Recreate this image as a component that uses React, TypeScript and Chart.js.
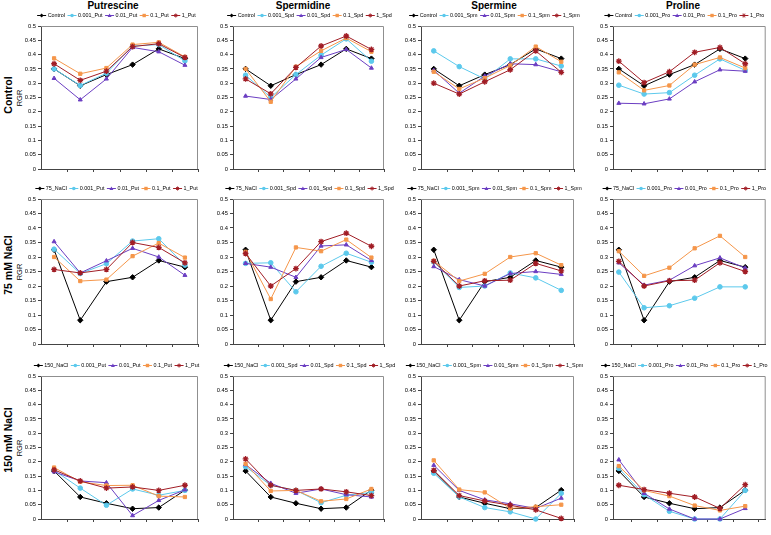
import React, { useEffect, useRef } from "react";
import { Chart, registerables } from "chart.js";

Chart.register(...registerables);

// ---------- data ----------
const days = ["DAY 2", "DAY 3", "DAY 4", "DAY 5", "DAY 6", "DAY 7"];
const dayNumbers = [2, 3, 4, 5, 6, 7];
const compounds = ["Putrescine", "Spermidine", "Spermine", "Proline"];
const suffixes = ["Put", "Spd", "Spm", "Pro"];
const treatments = ["Control", "75 mM NaCl", "150 mM NaCl"];
const baseNames = ["Control", "75_NaCl", "150_NaCl"];
const doses = ["0.001", "0.01", "0.1", "1"];
const yTickValues = [0, 0.05, 0.1, 0.15, 0.2, 0.25, 0.3, 0.35, 0.4, 0.45, 0.5];

const controlRGR = [0.35, 0.291, 0.33, 0.365, 0.42, 0.386];
const nacl75RGR = [0.325, 0.082, 0.215, 0.23, 0.288, 0.265];
const nacl150RGR = [0.168, 0.077, 0.055, 0.036, 0.04, 0.101];

// each: [0.001, 0.01, 0.1, 1] dose series
const putControl = [
  [0.35, 0.292, 0.335, 0.43, 0.435, 0.378],
  [0.317, 0.242, 0.315, 0.425, 0.41, 0.363],
  [0.387, 0.333, 0.353, 0.435, 0.443, 0.392],
  [0.368, 0.31, 0.342, 0.428, 0.438, 0.39],
];
const spdControl = [
  [0.328, 0.25, 0.33, 0.398, 0.455, 0.377],
  [0.255, 0.243, 0.315, 0.39, 0.418, 0.353],
  [0.35, 0.235, 0.358, 0.413, 0.458, 0.41],
  [0.315, 0.263, 0.355, 0.43, 0.465, 0.418],
];
const spmControl = [
  [0.413, 0.358, 0.315, 0.385, 0.385, 0.36],
  [0.345, 0.265, 0.325, 0.368, 0.365, 0.34],
  [0.34, 0.28, 0.318, 0.362, 0.428, 0.375],
  [0.3, 0.262, 0.305, 0.347, 0.413, 0.338],
];
const proControl = [
  [0.293, 0.262, 0.267, 0.328, 0.385, 0.345],
  [0.23, 0.228, 0.245, 0.305, 0.347, 0.342],
  [0.338, 0.275, 0.292, 0.365, 0.39, 0.353],
  [0.377, 0.302, 0.34, 0.408, 0.425, 0.368],
];
const put75 = [
  [0.327, 0.243, 0.277, 0.355, 0.363, 0.272],
  [0.353, 0.245, 0.287, 0.33, 0.3, 0.237],
  [0.3, 0.217, 0.222, 0.303, 0.348, 0.298],
  [0.257, 0.245, 0.257, 0.35, 0.333, 0.28],
];
const spd75 = [
  [0.278, 0.28, 0.18, 0.268, 0.313, 0.282],
  [0.278, 0.265, 0.23, 0.338, 0.342, 0.288],
  [0.318, 0.155, 0.333, 0.32, 0.36, 0.298],
  [0.312, 0.2, 0.26, 0.353, 0.382, 0.337],
];
const spm75 = [
  [0.283, 0.195, 0.2, 0.245, 0.228, 0.185],
  [0.267, 0.222, 0.2, 0.243, 0.25, 0.24],
  [0.287, 0.217, 0.242, 0.3, 0.313, 0.272],
  [0.285, 0.2, 0.218, 0.22, 0.278, 0.252],
];
const pro75 = [
  [0.248, 0.125, 0.132, 0.158, 0.197, 0.197],
  [0.28, 0.203, 0.22, 0.27, 0.297, 0.262],
  [0.32, 0.235, 0.263, 0.33, 0.373, 0.3],
  [0.285, 0.2, 0.218, 0.22, 0.28, 0.25],
];
const put150 = [
  [0.17, 0.108, 0.048, 0.105, 0.083, 0.1],
  [0.165, 0.133, 0.127, 0.012, 0.065, 0.102],
  [0.18, 0.13, 0.117, 0.118, 0.08, 0.077],
  [0.172, 0.133, 0.108, 0.112, 0.1, 0.118],
];
const spd150 = [
  [0.183, 0.118, 0.1, 0.057, 0.083, 0.093],
  [0.19, 0.125, 0.09, 0.105, 0.085, 0.077],
  [0.193, 0.098, 0.1, 0.062, 0.07, 0.105],
  [0.21, 0.118, 0.1, 0.105, 0.095, 0.082],
];
const spm150 = [
  [0.16, 0.077, 0.04, 0.025, 0.0, 0.09],
  [0.188, 0.1, 0.067, 0.053, 0.037, 0.073],
  [0.205, 0.103, 0.093, 0.037, 0.043, 0.05],
  [0.17, 0.082, 0.063, 0.048, 0.032, 0.002],
];
const pro150 = [
  [0.177, 0.085, 0.027, 0.0, 0.0, 0.1],
  [0.207, 0.09, 0.035, 0.0, 0.0, 0.037],
  [0.185, 0.1, 0.08, 0.047, 0.03, 0.045],
  [0.118, 0.103, 0.09, 0.077, 0.037, 0.12],
];

const baseSeries = [controlRGR, nacl75RGR, nacl150RGR];
const doseSeries = [
  [putControl, spdControl, spmControl, proControl],
  [put75, spd75, spm75, pro75],
  [put150, spd150, spm150, pro150],
];

// ---------- styles / layout ----------
const FAMILY = '"Liberation Sans", Arial, Helvetica, sans-serif';
const seriesColors = ["#000000", "#5CC9EC", "#6B3EC2", "#F5964A", "#A11D25"];
const seriesPoints = ["rectRot", "circle", "triangle", "rect", "star"];

const plotLeft = [41, 233, 421, 613];
const plotRight = [198, 384, 574, 766];
const plotTop = [26, 199, 376];
const plotBottom = [169, 344, 519];
const xMinByCol = [1.5, 1.5, 1.5, 1.77];
const xMaxByCol = [7.5, 7.5, 7.5, 7.81];
const rightPad = [12, 12, 12, 5];
const legendShift = [-3, 1, -3, -5];
const AXIS_W = 36;
const TOP_PAD = 22;
const XAXIS_H = 14;

function drawMarker(ctx: CanvasRenderingContext2D, style: string, x: number, y: number, r: number, color: string) {
  ctx.save();
  ctx.fillStyle = color;
  ctx.strokeStyle = color;
  ctx.lineWidth = 1;
  ctx.beginPath();
  if (style === "rectRot") {
    ctx.moveTo(x, y - r);
    ctx.lineTo(x + r, y);
    ctx.lineTo(x, y + r);
    ctx.lineTo(x - r, y);
    ctx.closePath();
    ctx.fill();
  } else if (style === "circle") {
    ctx.arc(x, y, r * 0.9, 0, Math.PI * 2);
    ctx.fill();
  } else if (style === "triangle") {
    ctx.moveTo(x, y - r);
    ctx.lineTo(x + r, y + r * 0.8);
    ctx.lineTo(x - r, y + r * 0.8);
    ctx.closePath();
    ctx.fill();
  } else if (style === "rect") {
    ctx.rect(x - r * 0.85, y - r * 0.85, r * 1.7, r * 1.7);
    ctx.fill();
  } else {
    for (let k = 0; k < 4; k++) {
      const a = (k * Math.PI) / 4;
      ctx.moveTo(x - Math.cos(a) * r, y - Math.sin(a) * r);
      ctx.lineTo(x + Math.cos(a) * r, y + Math.sin(a) * r);
    }
    ctx.stroke();
  }
  ctx.restore();
}

const framePlugin = {
  id: "panelFrame",
  beforeDatasetsDraw(chart: any) {
    const { ctx, chartArea: a } = chart;
    ctx.save();
    ctx.strokeStyle = "#8f8f8f";
    ctx.lineWidth = 1;
    ctx.beginPath();
    ctx.moveTo(a.left, a.top + 0.5);
    ctx.lineTo(a.right - 0.5, a.top + 0.5);
    ctx.lineTo(a.right - 0.5, a.bottom);
    ctx.stroke();
    const xs = chart.scales.x;
    ctx.strokeStyle = "#444";
    ctx.beginPath();
    for (let v = 1.5; v <= 7.5; v += 1) {
      if (v <= xs.min || v > xs.max) continue;
      const px = Math.round(xs.getPixelForValue(v)) + 0.5;
      ctx.moveTo(px, a.bottom);
      ctx.lineTo(px, a.bottom + 3);
    }
    ctx.stroke();
    ctx.restore();
  },
};

const legendPlugin = {
  id: "panelLegend",
  afterDraw(chart: any) {
    const { ctx, chartArea: a } = chart;
    const ds = chart.data.datasets;
    const shift = chart.options.plugins.panelLegend?.shift ?? 0;
    ctx.save();
    ctx.font = `5.4px ${FAMILY}`;
    const sample = 9;
    const gapIn = 1.5;
    const gapOut = 2.5;
    const widths = ds.map((d: any) => ctx.measureText(d.label).width);
    const total =
      widths.reduce((s: number, w: number) => s + w, 0) + ds.length * (sample + gapIn) + (ds.length - 1) * gapOut;
    let x = (a.left + a.right) / 2 + shift - total / 2;
    const y = a.top - 10.5;
    ds.forEach((d: any, i: number) => {
      ctx.strokeStyle = d.borderColor;
      ctx.lineWidth = 1;
      ctx.beginPath();
      ctx.moveTo(x, y);
      ctx.lineTo(x + sample, y);
      ctx.stroke();
      drawMarker(ctx, d.pointStyle, x + sample / 2, y, 2, d.borderColor);
      x += sample + gapIn;
      ctx.fillStyle = "#000";
      ctx.textBaseline = "middle";
      ctx.textAlign = "left";
      ctx.fillText(d.label, x, y);
      x += widths[i] + gapOut;
    });
    ctx.restore();
  },
};

function Panel({ r, c }: { r: number; c: number }) {
  const ref = useRef<HTMLCanvasElement>(null);
  const width = plotRight[c] - plotLeft[c] + AXIS_W + rightPad[c];
  const height = plotBottom[r] - plotTop[r] + TOP_PAD + XAXIS_H;
  const left = plotLeft[c] - AXIS_W;
  const top = plotTop[r] - TOP_PAD;

  useEffect(() => {
    if (!ref.current) return;
    const labels = [baseNames[r], ...doses.map((d) => `${d}_${suffixes[c]}`)];
    const values = [baseSeries[r], ...doseSeries[r][c]];
    const datasets = labels.map((label, i) => ({
      label,
      data: dayNumbers.map((d, j) => ({ x: d, y: values[i][j] })),
      borderColor: seriesColors[i],
      backgroundColor: seriesColors[i],
      borderWidth: 1,
      pointStyle: seriesPoints[i],
      pointRadius: i === 4 ? 2.9 : i === 0 ? 2.7 : 2.3,
      pointBorderWidth: i === 4 ? 1.3 : 1,
      pointBorderColor: seriesColors[i],
      pointBackgroundColor: seriesColors[i],
      tension: 0,
      clip: false as any,
      order: -i,
    }));
    const chart = new Chart(ref.current, {
      type: "line",
      data: { datasets },
      options: {
        animation: false,
        responsive: false,
        devicePixelRatio: 1,
        layout: { padding: { left: 0, top: TOP_PAD, right: rightPad[c], bottom: 0 } },
        plugins: {
          legend: { display: false },
          tooltip: { enabled: false },
          title: { display: false },
          panelLegend: { shift: legendShift[c] },
        },
        scales: {
          x: {
            type: "linear",
            min: xMinByCol[c],
            max: xMaxByCol[c],
            afterFit: (s: any) => {
              s.height = XAXIS_H;
            },
            afterBuildTicks: (s: any) => {
              s.ticks = dayNumbers.map((v) => ({ value: v }));
            },
            ticks: {
              callback: (v: any) => {
                const k = dayNumbers.indexOf(Number(v));
                return k >= 0 ? days[k] : "";
              },
              font: { size: 5.8, family: FAMILY },
              color: "#000",
              padding: 5,
              maxRotation: 0,
              autoSkip: false,
            },
            grid: { display: false },
            border: { display: true, color: "#444", width: 1 },
          },
          y: {
            type: "linear",
            min: 0,
            max: 0.5,
            afterFit: (s: any) => {
              s.width = AXIS_W;
            },
            afterBuildTicks: (s: any) => {
              s.ticks = yTickValues.map((v) => ({ value: v }));
            },
            ticks: {
              callback: (v: any) => String(parseFloat(Number(v).toFixed(2))),
              font: { size: 5.8, family: FAMILY },
              color: "#000",
              padding: 2,
            },
            grid: { drawOnChartArea: false, drawTicks: true, tickLength: 3, color: "#444" },
            border: { display: true, color: "#444", width: 1 },
          },
        },
      } as any,
      plugins: [framePlugin, legendPlugin],
    });
    return () => chart.destroy();
  }, [r, c]);

  return (
    <canvas
      ref={ref}
      width={width}
      height={height}
      style={{ position: "absolute", left, top, width, height }}
    />
  );
}

const colTitleX = [113, 303, 494, 683];
const rowLabelY = [95, 265, 440];

export default function App() {
  const rotated = (text: string, x: number, y: number, style: React.CSSProperties, key: string) => (
    <div
      key={key}
      style={{
        position: "absolute",
        left: x,
        top: y,
        transform: "translate(-50%, -50%) rotate(-90deg)",
        whiteSpace: "nowrap",
        fontFamily: FAMILY,
        color: "#000",
        lineHeight: 1,
        ...style,
      }}
    >
      {text}
    </div>
  );
  return (
    <div
      style={{
        position: "absolute",
        left: 0,
        top: 0,
        width: 771,
        height: 535,
        overflow: "hidden",
        background: "#fff",
      }}
    >
      {compounds.map((name, c) => (
        <div
          key={name}
          style={{
            position: "absolute",
            left: colTitleX[c],
            top: 6,
            transform: "translate(-50%, -50%)",
            fontFamily: FAMILY,
            fontWeight: "bold",
            fontSize: 10,
            lineHeight: 1,
            whiteSpace: "nowrap",
          }}
        >
          {name}
        </div>
      ))}
      {treatments.map((t, r) => rotated(t, 8, rowLabelY[r], { fontWeight: "bold", fontSize: 10.5 }, "t" + r))}
      {treatments.map((t, r) =>
        rotated("RGR", 19.5, (plotTop[r] + plotBottom[r]) / 2, { fontSize: 7.5 }, "rgr" + r)
      )}
      {treatments.map((t, r) => compounds.map((cn, c) => <Panel key={`${r}-${c}`} r={r} c={c} />))}
    </div>
  );
}
